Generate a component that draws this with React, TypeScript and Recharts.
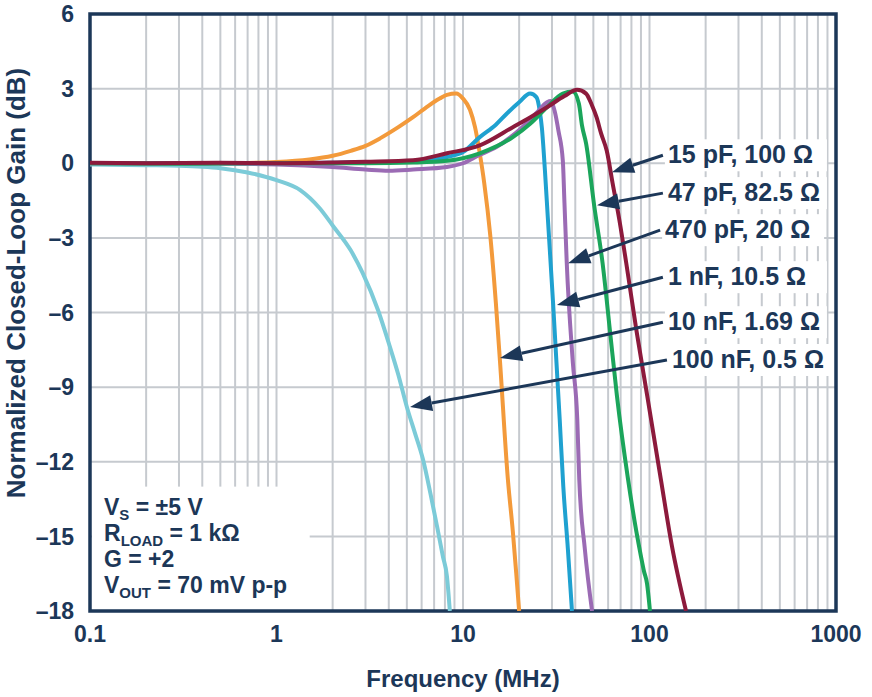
import { LineChart, Line, XAxis, YAxis, CartesianGrid, ReferenceArea, ReferenceLine } from "recharts";

const navy = "#1c3758";
const font = "'Liberation Sans', Arial, sans-serif";

const decades = [0.1, 1, 10, 100, 1000];
const xTicks = [
  0.1, 0.2, 0.3, 0.4, 0.5, 0.6, 0.7, 0.8, 0.9,
  1, 2, 3, 4, 5, 6, 7, 8, 9,
  10, 20, 30, 40, 50, 60, 70, 80, 90,
  100, 200, 300, 400, 500, 600, 700, 800, 900, 1000,
];
const yTicks = [-18, -15, -12, -9, -6, -3, 0, 3, 6];

// 15 pF, 100 Ω
const freq15p = [0.1, 0.2, 0.5, 1, 2, 3, 5.4, 8.2, 12.3, 18.5, 23, 28.2, 35, 40.9, 45.7, 49, 52, 55, 59, 63.4, 69, 75, 85, 97.5, 115, 132, 157];
const gain15p = [0.02, 0, 0.02, 0, 0.03, 0.06, 0.12, 0.4, 0.72, 1.45, 1.85, 2.25, 2.7, 2.95, 2.8, 2.35, 1.85, 1.2, 0.5, -0.8, -2.3, -4.0, -6.7, -9.4, -12.7, -15.4, -18];
// 47 pF, 82.5 Ω
const freq47p = [0.1, 0.3, 1, 3, 5.4, 8.2, 12.3, 18.5, 23, 28.2, 34.3, 38.8, 41.8, 43.5, 45.7, 50.5, 56, 61.3, 67, 76.7, 85, 90, 93.4, 97, 100.6];
const gain47p = [0, -0.02, 0, 0, 0.03, 0.1, 0.4, 1.05, 1.6, 2.25, 2.8, 2.88, 2.4, 1.5, 0.8, -1.7, -4.0, -6.7, -9.4, -12.7, -14.8, -15.8, -16.4, -16.9, -18];
// 470 pF, 20 Ω
const freq470p = [0.1, 0.3, 1, 2, 3, 4, 5.4, 8.2, 10, 12, 15.1, 18, 20.8, 25, 28.2, 29.5, 31, 32.5, 34.3, 35, 36, 38.8, 41, 42, 45, 49.2];
const gain470p = [0, 0, -0.05, -0.15, -0.25, -0.3, -0.25, -0.15, 0, 0.3, 0.65, 1.05, 1.45, 2.05, 2.45, 2.5, 2.1, 1.3, 0.1, -1.6, -4.0, -8.0, -10.3, -12.7, -15.5, -18];
// 1 nF, 10.5 Ω
const freq1n = [0.1, 0.3, 1, 2, 3, 5.4, 8.2, 10, 12.3, 15, 17.2, 20, 22.9, 24.8, 25.8, 26.5, 27.5, 28.5, 30.4, 33, 34.5, 36.5, 38.4];
const gain1n = [0, 0, 0, 0.02, 0.05, 0.05, 0.25, 0.45, 1.05, 1.55, 2.0, 2.45, 2.8, 2.65, 2.1, 1.4, -0.3, -2.2, -5.6, -10.3, -13, -15.5, -18];
// 10 nF, 1.69 Ω
const freq10n = [0.1, 0.3, 0.6, 1, 1.5, 2, 2.5, 3, 3.59, 4.5, 5.4, 6.5, 7.5, 8.2, 9.2, 10, 10.9, 11.6, 12.3, 13, 14, 15, 15.8, 17.4, 18.5, 19.3, 20];
const gain10n = [0, 0, 0.01, 0.05, 0.15, 0.3, 0.5, 0.7, 1.0, 1.45, 1.85, 2.3, 2.6, 2.75, 2.8, 2.6, 2.15, 1.45, 0.4, -0.8, -2.9, -5.6, -8.0, -12.7, -14.8, -16.5, -18];
// 100 nF, 0.5 Ω
const freq100n = [0.1, 0.2, 0.3, 0.4, 0.5, 0.7, 1, 1.34, 1.7, 2, 2.5, 2.9, 3.5, 4.06, 4.5, 5, 5.5, 6.1, 6.7, 7.26, 7.8, 8.2, 8.5];
const gain100n = [-0.05, -0.08, -0.1, -0.14, -0.2, -0.37, -0.68, -1.08, -1.8, -2.5, -3.5, -4.42, -5.9, -7.39, -8.5, -9.8, -10.8, -11.9, -13.3, -14.6, -15.8, -16.6, -18];

const zip = (f: number[], g: number[]) => f.map((v, i) => ({ f: v, g: g[i] }));

const series = [
  { key: "100n", color: "#7ccbd8", data: zip(freq100n, gain100n) },
  { key: "10n", color: "#f39a3b", data: zip(freq10n, gain10n) },
  { key: "1n", color: "#1fa1d0", data: zip(freq1n, gain1n) },
  { key: "470p", color: "#9b6bb4", data: zip(freq470p, gain470p) },
  { key: "47p", color: "#1ba55b", data: zip(freq47p, gain47p) },
  { key: "15p", color: "#8c1a3c", data: zip(freq15p, gain15p) },
];

// label text, arrow tail and arrow tip in (MHz, dB)
const callouts = [
  { text: "15 pF, 100 Ω", from: [118, 0.32], to: [62.9, -0.36] },
  { text: "47 pF, 82.5 Ω", from: [118, -1.2], to: [52.3, -1.69] },
  { text: "470 pF, 20 Ω", from: [114, -2.69], to: [36.6, -4.02] },
  { text: "1 nF, 10.5 Ω", from: [118, -4.58], to: [31.9, -5.7] },
  { text: "10 nF, 1.69 Ω", from: [118, -6.39], to: [15.8, -7.83] },
  { text: "100 nF, 0.5 Ω", from: [124, -7.91], to: [5.2, -9.8] },
];

const fmtY = (v: number) => (v < 0 ? `–${-v}` : `${v}`);
const fmtX = (v: number) => (decades.includes(v) ? `${v}` : "");

// eslint-disable-next-line @typescript-eslint/no-explicit-any
function Callout(props: any) {
  const { x1, y1, x2, y2, text } = props;
  const dx = x2 - x1, dy = y2 - y1;
  const len = Math.hypot(dx, dy);
  const ux = dx / len, uy = dy / len;
  const bx = x2 - ux * 22, by = y2 - uy * 22;
  const nx = -uy * 8, ny = ux * 8;
  return (
    <g>
      <rect x={x1 + 2} y={y1 - 16} width={162} height={32} fill="#fff" />
      <text x={x1 + 5} y={y1 + 8} fill={navy} fontSize={25} fontWeight={700} fontFamily={font}>{text}</text>
      <line x1={x1} y1={y1} x2={bx} y2={by} stroke={navy} strokeWidth={3} />
      <polygon points={`${x2},${y2} ${bx + nx},${by + ny} ${bx - nx},${by - ny}`} fill={navy} />
    </g>
  );
}

// eslint-disable-next-line @typescript-eslint/no-explicit-any
function Conditions(props: any) {
  const { x, y, width, height } = props;
  const t = { fill: navy, fontSize: 23, fontWeight: 700, fontFamily: font };
  return (
    <g>
      <rect x={x + 2} y={y} width={width} height={height} fill="#fff" />
      <text x={x + 14} y={y + 28} {...t}>V<tspan dy={5} fontSize={15}>S</tspan><tspan dy={-5}> = ±5 V</tspan></text>
      <text x={x + 14} y={y + 54} {...t}>R<tspan dy={5} fontSize={15}>LOAD</tspan><tspan dy={-5}> = 1 kΩ</tspan></text>
      <text x={x + 14} y={y + 80} {...t}>G = +2</text>
      <text x={x + 14} y={y + 106} {...t}>V<tspan dy={5} fontSize={15}>OUT</tspan><tspan dy={-5}> = 70 mV p-p</tspan></text>
    </g>
  );
}

function YTitle() {
  const cx = 16;
  const cy = 283;
  return (
    <text x={cx} y={cy} transform={`rotate(-90, ${cx}, ${cy})`} textAnchor="middle" dominantBaseline="central"
      fill={navy} fontSize={26} fontWeight={700} fontFamily={font}>
      Normalized Closed-Loop Gain (dB)
    </text>
  );
}

export default function App() {
  const tick = { fill: navy, fontSize: 23, fontWeight: 700, fontFamily: font };
  return (
    <div style={{ position: "absolute", left: 0, top: 0, background: "#fff" }}>
      <LineChart width={872} height={697} margin={{ top: 14, right: 36, left: 0, bottom: 0 }}>
        <CartesianGrid stroke="#c6cacf" strokeWidth={2} />
        <XAxis dataKey="f" type="number" scale="log" domain={[0.1, 1000]} ticks={xTicks} interval={0}
          allowDataOverflow tickFormatter={fmtX} tick={tick} tickLine={false} axisLine={false}
          tickSize={0} tickMargin={15} height={86}
          label={{ value: "Frequency (MHz)", position: "insideBottom", offset: 10, fill: navy, fontSize: 24, fontWeight: 700, fontFamily: font }} />
        <YAxis type="number" domain={[-18, 6]} ticks={yTicks} interval={0} allowDataOverflow
          tickFormatter={fmtY} tick={tick} tickLine={false} axisLine={false} tickSize={0} tickMargin={16}
          width={90} label={<YTitle />} />
        <ReferenceArea x1={0.1} x2={1.47} y1={-18} y2={-13} shape={(p: any) => <Conditions {...p} />} />
        {series.map((s) => (
          <Line key={s.key} data={s.data} dataKey="g" type="monotone" stroke={s.color} strokeWidth={4}
            dot={false} activeDot={false} isAnimationActive={false} />
        ))}
        {callouts.map((c) => (
          <ReferenceLine key={c.text} segment={[{ x: c.from[0], y: c.from[1] }, { x: c.to[0], y: c.to[1] }]}
            stroke={navy} shape={(p: any) => <Callout {...p} text={c.text} />} />
        ))}
        <ReferenceArea x1={0.1} x2={1000} y1={-18} y2={6} fill="none" stroke={navy} strokeWidth={3.5} fillOpacity={0} />
      </LineChart>
    </div>
  );
}
